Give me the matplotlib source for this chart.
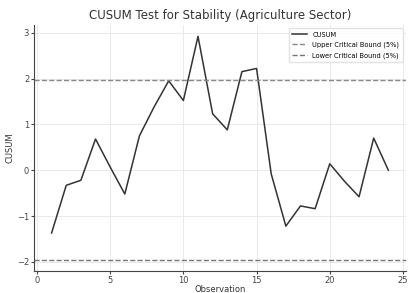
import matplotlib
matplotlib.use("Agg")
import matplotlib.pyplot as plt

# CUSUM values per observation
observations = list(range(1, 25))
cusum = [-1.37, -0.33, -0.22, 0.68, 0.07, -0.52, 0.75, 1.38, 1.95, 1.52,
         2.92, 1.23, 0.88, 2.15, 2.22, -0.08, -1.22, -0.78, -0.84, 0.14,
         -0.24, -0.58, 0.70, 0.00]
upper_bound = 1.96
lower_bound = -1.96

fig, ax = plt.subplots(figsize=(4.1, 2.93), dpi=100)
ax.plot(observations, cusum, color="#333333", lw=1.1, label="CUSUM")
ax.axhline(upper_bound, color="#888888", ls="--", lw=1.0,
           label="Upper Critical Bound (5%)")
ax.axhline(lower_bound, color="#777777", ls="--", lw=1.0,
           label="Lower Critical Bound (5%)")

ax.set_xlim(-0.2, 25.2)
ax.set_ylim(-2.2, 3.17)
ax.set_xticks([0, 5, 10, 15, 20, 25])
ax.set_yticks([-2, -1, 0, 1, 2, 3])
ax.grid(True, color="#e6e6e6", lw=0.6)
for s in ["top", "right"]:
    ax.spines[s].set_visible(False)
for s in ["left", "bottom"]:
    ax.spines[s].set_color("#444444")
ax.tick_params(labelsize=6, length=2, pad=1.5, colors="#444444")

ax.set_title("CUSUM Test for Stability (Agriculture Sector)", fontsize=8.5,
             color="#333333", pad=4)
ax.set_xlabel("Observation", fontsize=6, color="#333333", labelpad=0)
ax.set_ylabel("CUSUM", fontsize=6, color="#333333", labelpad=2)
ax.legend(loc="upper right", fontsize=4.8, frameon=True, edgecolor="#dddddd",
          handlelength=2.2, borderpad=0.5, labelspacing=0.6)

fig.subplots_adjust(left=0.083, right=0.99, top=0.915, bottom=0.075)
fig.savefig("out.png", dpi=100)
